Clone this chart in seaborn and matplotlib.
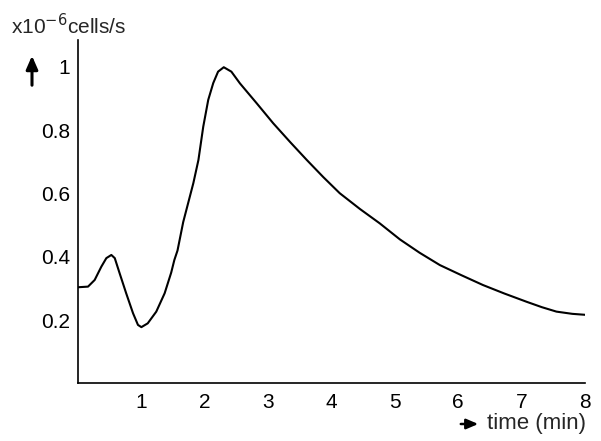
import matplotlib
matplotlib.use("Agg")
import matplotlib.pyplot as plt
import seaborn as sns
import pandas as pd

# data
time_min = [0, 0.158, 0.263, 0.368, 0.447, 0.526, 0.58, 0.657, 0.76, 0.868, 0.946,
            1.0, 1.10, 1.235, 1.367, 1.47, 1.52, 1.57, 1.66, 1.82, 1.90, 1.976,
            2.055, 2.134, 2.21, 2.30, 2.42, 2.555, 2.82, 3.08, 3.35, 3.61, 3.87,
            4.13, 4.45, 4.76, 5.08, 5.39, 5.71, 6.05, 6.39, 6.73, 7.08, 7.32, 7.55,
            7.8, 8.0]
cells_per_s = [0.304, 0.306, 0.327, 0.369, 0.396, 0.406, 0.396, 0.348, 0.285, 0.222,
               0.185, 0.178, 0.19, 0.227, 0.285, 0.35, 0.39, 0.42, 0.51, 0.633, 0.706,
               0.811, 0.896, 0.949, 0.985, 0.999, 0.985, 0.948, 0.885, 0.822, 0.762,
               0.706, 0.652, 0.601, 0.551, 0.506, 0.455, 0.413, 0.374, 0.342, 0.311,
               0.284, 0.258, 0.241, 0.227, 0.22, 0.217]
x_ticks = [1, 2, 3, 4, 5, 6, 7, 8]
x_tick_labels = ["1", "2", "3", "4", "5", "6", "7", "8"]
y_ticks = [0.2, 0.4, 0.6, 0.8, 1.0]
y_tick_labels = ["0.2", "0.4", "0.6", "0.8", "1"]

df = pd.DataFrame({"t": time_min, "v": cells_per_s})

sns.set_style("white")
plt.rcParams["font.family"] = ["Liberation Sans", "DejaVu Sans"]

fig = plt.figure(figsize=(6.01, 4.41), dpi=100)
ax = fig.add_axes([0.1298, 0.1304, 0.9734 - 0.1298, 0.9093 - 0.1304])

sns.lineplot(data=df, x="t", y="v", ax=ax, color="black", linewidth=1.5)

ax.set_xlim(0, 8)
ax.set_ylim(0, 1.085)
ax.set_xticks(x_ticks)
ax.set_xticklabels(x_tick_labels)
ax.set_yticks(y_ticks)
ax.set_yticklabels(y_tick_labels)
ax.set_xlabel("")
ax.set_ylabel("")

for s in ["top", "right"]:
    ax.spines[s].set_visible(False)
for s in ["left", "bottom"]:
    ax.spines[s].set_color("black")
    ax.spines[s].set_linewidth(1.2)

ax.tick_params(axis="both", direction="inout", length=7, width=1.2, color="black",
               labelsize=15, labelcolor="black")
ax.tick_params(axis="y", pad=2)
ax.tick_params(axis="x", pad=3)

# y unit label
fig.text(11 / 601, 1 - 34 / 441, "x10$^{-6}$cells/s", fontsize=15, ha="left",
         va="baseline")
# up arrow beside y axis
ax.annotate("", xy=(32 / 601, 1 - 53 / 441), xytext=(32 / 601, 1 - 88 / 441),
            xycoords="figure fraction", textcoords="figure fraction",
            arrowprops=dict(arrowstyle="-|>,head_length=0.8,head_width=0.35",
                            color="black", lw=2.2))
# x label with arrow
ax.annotate("", xy=(481 / 601, 1 - 424 / 441), xytext=(458 / 601, 1 - 424 / 441),
            xycoords="figure fraction", textcoords="figure fraction",
            arrowprops=dict(arrowstyle="-|>,head_length=0.7,head_width=0.3",
                            color="black", lw=1.8))
fig.text(487 / 601, 1 - 424 / 441, "time (min)", fontsize=16, ha="left",
         va="center")

fig.savefig("out.png", dpi=100, facecolor="white")
